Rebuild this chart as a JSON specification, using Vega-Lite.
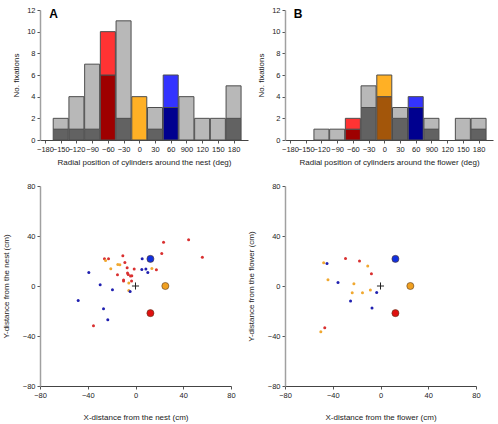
{
  "$schema": "https://vega.github.io/schema/vega-lite/v6.json",
  "padding": {"left": 2, "top": 6, "right": 2, "bottom": 2},
  "background": "white",
  "datasets": {
    "nest_bars": [
      {"angle": -150, "segment": "grey lower", "n": 1}, {"angle": -150, "segment": "grey upper", "n": 1},
      {"angle": -120, "segment": "grey lower", "n": 1}, {"angle": -120, "segment": "grey upper", "n": 3},
      {"angle": -90, "segment": "grey lower", "n": 1}, {"angle": -90, "segment": "grey upper", "n": 6},
      {"angle": -60, "segment": "red lower", "n": 6}, {"angle": -60, "segment": "red upper", "n": 4},
      {"angle": -30, "segment": "grey lower", "n": 2}, {"angle": -30, "segment": "grey upper", "n": 9},
      {"angle": 0, "segment": "orange upper", "n": 4},
      {"angle": 30, "segment": "grey lower", "n": 1}, {"angle": 30, "segment": "grey upper", "n": 2},
      {"angle": 60, "segment": "blue lower", "n": 3}, {"angle": 60, "segment": "blue upper", "n": 3},
      {"angle": 90, "segment": "grey upper", "n": 4},
      {"angle": 120, "segment": "grey upper", "n": 2},
      {"angle": 150, "segment": "grey upper", "n": 2},
      {"angle": 180, "segment": "grey lower", "n": 2}, {"angle": 180, "segment": "grey upper", "n": 3}
    ],
    "flower_bars": [
      {"angle": -120, "segment": "grey upper", "n": 1},
      {"angle": -90, "segment": "grey upper", "n": 1},
      {"angle": -60, "segment": "red lower", "n": 1}, {"angle": -60, "segment": "red upper", "n": 1},
      {"angle": -30, "segment": "grey lower", "n": 3}, {"angle": -30, "segment": "grey upper", "n": 2},
      {"angle": 0, "segment": "orange lower", "n": 4}, {"angle": 0, "segment": "orange upper", "n": 2},
      {"angle": 30, "segment": "grey lower", "n": 2}, {"angle": 30, "segment": "grey upper", "n": 1},
      {"angle": 60, "segment": "blue lower", "n": 3}, {"angle": 60, "segment": "blue upper", "n": 1},
      {"angle": 90, "segment": "grey lower", "n": 1}, {"angle": 90, "segment": "grey upper", "n": 1},
      {"angle": 150, "segment": "grey upper", "n": 2},
      {"angle": 180, "segment": "grey lower", "n": 1}, {"angle": 180, "segment": "grey upper", "n": 1}
    ],
    "nest_points": [
      {"x": 44.5, "y": 37, "cyl": "red"}, {"x": 23.5, "y": 35, "cyl": "red"}, {"x": 56, "y": 23, "cyl": "red"},
      {"x": 22, "y": 26, "cyl": "red"}, {"x": 17.5, "y": 13, "cyl": "red"}, {"x": -10.6, "y": 24.3, "cyl": "red"},
      {"x": -26, "y": 21.9, "cyl": "red"}, {"x": -22.6, "y": 21.9, "cyl": "red"}, {"x": -8.9, "y": 18.9, "cyl": "red"},
      {"x": -7, "y": 14.7, "cyl": "red"}, {"x": -1.1, "y": 13.6, "cyl": "red"}, {"x": -15.1, "y": 9.1, "cyl": "red"},
      {"x": -6.7, "y": 10.4, "cyl": "red"}, {"x": -6.1, "y": 9.3, "cyl": "red"}, {"x": -4.2, "y": 8, "cyl": "red"},
      {"x": -3.1, "y": 8.3, "cyl": "red"}, {"x": -10, "y": 4.8, "cyl": "red"}, {"x": -10, "y": 4, "cyl": "red"},
      {"x": -3.3, "y": 4, "cyl": "red"}, {"x": -35.2, "y": -31.7, "cyl": "red"},
      {"x": -25.1, "y": 20.5, "cyl": "orange"}, {"x": -14.8, "y": 17.3, "cyl": "orange"}, {"x": -13.1, "y": 17.1, "cyl": "orange"},
      {"x": -20.7, "y": 13.9, "cyl": "orange"}, {"x": 13.7, "y": 14.1, "cyl": "orange"}, {"x": -5.6, "y": 2.4, "cyl": "orange"},
      {"x": -5.6, "y": -3.5, "cyl": "orange"},
      {"x": 5.6, "y": 21.9, "cyl": "blue"}, {"x": -39.1, "y": 10.9, "cyl": "blue"}, {"x": 5.3, "y": 13.3, "cyl": "blue"},
      {"x": 8.7, "y": 13.6, "cyl": "blue"}, {"x": 10.3, "y": 10.9, "cyl": "blue"}, {"x": -29.6, "y": 1.1, "cyl": "blue"},
      {"x": -19.3, "y": -2.9, "cyl": "blue"}, {"x": -4.5, "y": -4.3, "cyl": "blue"}, {"x": -48, "y": -11.5, "cyl": "blue"},
      {"x": -26.8, "y": -18.1, "cyl": "blue"}, {"x": -23.2, "y": -26.9, "cyl": "blue"}
    ],
    "flower_points": [
      {"x": -47.6, "y": 18.7, "cyl": "orange"}, {"x": -44.8, "y": 18.1, "cyl": "blue"}, {"x": -29.3, "y": 22.1, "cyl": "red"},
      {"x": -17.6, "y": 20, "cyl": "red"}, {"x": -10.7, "y": 16, "cyl": "orange"}, {"x": -7.6, "y": 9.9, "cyl": "red"},
      {"x": -44, "y": 5.1, "cyl": "orange"}, {"x": -35.6, "y": 2.9, "cyl": "blue"}, {"x": -22.3, "y": 1.9, "cyl": "orange"},
      {"x": -23.7, "y": -5.3, "cyl": "orange"}, {"x": -15.1, "y": -5.3, "cyl": "orange"}, {"x": -8.5, "y": -3.2, "cyl": "orange"},
      {"x": -3.2, "y": -5.1, "cyl": "blue"}, {"x": -25.1, "y": -12, "cyl": "blue"}, {"x": -7.1, "y": -17.6, "cyl": "blue"},
      {"x": -46.7, "y": -33.3, "cyl": "red"}, {"x": -50, "y": -36.5, "cyl": "orange"}
    ],
    "cylinders": [
      {"x": 12.5, "y": 21.7, "cyl": "blue cylinder"},
      {"x": 25, "y": 0, "cyl": "orange cylinder"},
      {"x": 12.5, "y": -21.7, "cyl": "red cylinder"}
    ],
    "origin": [{"x": 0, "y": 0}]
  },
  "spacing": {"row": 46, "column": 37},
  "columns": 2,
  "bounds": "flush",
  "concat": [
    {
      "width": 208, "height": 130,
      "layer": [
        {
          "data": {"name": "nest_bars"},
          "mark": {"type": "bar", "size": 15, "stroke": "#4d4d4d", "strokeWidth": 1},
          "encoding": {
            "x": {"field": "angle", "type": "quantitative",
                  "scale": {"domain": [-180, 198], "nice": false, "zero": false},
                  "axis": {"title": "Radial position of cylinders around the nest (deg)",
                           "values": [-180, -150, -120, -90, -60, -30, 0, 30, 60, 90, 120, 150, 180],
                           "labelExpr": "datum.value == 90 ? '900' : datum.label"}},
            "y": {"field": "n", "type": "quantitative", "stack": "zero",
                  "scale": {"domain": [0, 12], "nice": false},
                  "axis": {"title": "No. fixations", "values": [0, 2, 4, 6, 8, 10, 12], "domainColor": "#a0a0a0", "domainWidth": 1.5}},
            "order": {"field": "segment", "sort": "ascending"},
            "color": {"field": "segment", "type": "nominal", "legend": null,
                      "scale": {"domain": ["grey lower", "grey upper", "red lower", "red upper", "orange lower", "orange upper", "blue lower", "blue upper", "red", "orange", "blue", "red cylinder", "orange cylinder", "blue cylinder"],
                                "range": ["#626262", "#b8b8b8", "#9e0000", "#ff3333", "#a3560a", "#ffb025", "#00008f", "#3333ff", "#d93030", "#f0a830", "#2020b0", "#e01010", "#f0a020", "#1030e0"]}}
          }
        },
        {
          "data": {"values": [{"panel": "A"}]},
          "mark": {"type": "text", "align": "left", "baseline": "middle", "fontSize": 12, "fontWeight": "bold", "font": "Liberation Sans"},
          "encoding": {
            "x": {"datum": -172, "type": "quantitative",
                  "scale": {"domain": [-180, 198], "nice": false, "zero": false},
                  "axis": {"title": "Radial position of cylinders around the nest (deg)",
                           "values": [-180, -150, -120, -90, -60, -30, 0, 30, 60, 90, 120, 150, 180],
                           "labelExpr": "datum.value == 90 ? '900' : datum.label"}},
            "y": {"datum": 11.6, "type": "quantitative",
                  "scale": {"domain": [0, 12], "nice": false},
                  "axis": {"title": "No. fixations", "values": [0, 2, 4, 6, 8, 10, 12], "domainColor": "#a0a0a0", "domainWidth": 1.5}},
            "text": {"field": "panel"}}
        }
      ]
    },
    {
      "width": 208, "height": 130,
      "layer": [
        {
          "data": {"name": "flower_bars"},
          "mark": {"type": "bar", "size": 15, "stroke": "#4d4d4d", "strokeWidth": 1},
          "encoding": {
            "x": {"field": "angle", "type": "quantitative",
                  "scale": {"domain": [-180, 198], "nice": false, "zero": false},
                  "axis": {"title": "Radial position of cylinders around the flower (deg)",
                           "values": [-180, -150, -120, -90, -60, -30, 0, 30, 60, 90, 120, 150, 180],
                           "labelExpr": "datum.value == 90 ? '900' : datum.label"}},
            "y": {"field": "n", "type": "quantitative", "stack": "zero",
                  "scale": {"domain": [0, 12], "nice": false},
                  "axis": {"title": "No. fixations", "values": [0, 2, 4, 6, 8, 10, 12], "domainColor": "#a0a0a0", "domainWidth": 1.5}},
            "order": {"field": "segment", "sort": "ascending"},
            "color": {"field": "segment", "type": "nominal", "legend": null,
                      "scale": {"domain": ["grey lower", "grey upper", "red lower", "red upper", "orange lower", "orange upper", "blue lower", "blue upper", "red", "orange", "blue", "red cylinder", "orange cylinder", "blue cylinder"],
                                "range": ["#626262", "#b8b8b8", "#9e0000", "#ff3333", "#a3560a", "#ffb025", "#00008f", "#3333ff", "#d93030", "#f0a830", "#2020b0", "#e01010", "#f0a020", "#1030e0"]}}
          }
        },
        {
          "data": {"values": [{"panel": "B"}]},
          "mark": {"type": "text", "align": "left", "baseline": "middle", "fontSize": 12, "fontWeight": "bold", "font": "Liberation Sans"},
          "encoding": {
            "x": {"datum": -173, "type": "quantitative",
                  "scale": {"domain": [-180, 198], "nice": false, "zero": false},
                  "axis": {"title": "Radial position of cylinders around the flower (deg)",
                           "values": [-180, -150, -120, -90, -60, -30, 0, 30, 60, 90, 120, 150, 180],
                           "labelExpr": "datum.value == 90 ? '900' : datum.label"}},
            "y": {"datum": 11.6, "type": "quantitative",
                  "scale": {"domain": [0, 12], "nice": false},
                  "axis": {"title": "No. fixations", "values": [0, 2, 4, 6, 8, 10, 12], "domainColor": "#a0a0a0", "domainWidth": 1.5}},
            "text": {"field": "panel"}}
        }
      ]
    },
    {
      "width": 191, "height": 200,
      "encoding": {
        "x": {"field": "x", "type": "quantitative",
              "scale": {"domain": [-80, 80], "nice": false},
              "axis": {"title": "X-distance from the nest (cm)", "values": [-80, -40, 0, 40, 80], "titlePadding": 15}},
        "y": {"field": "y", "type": "quantitative",
              "scale": {"domain": [-80, 80], "nice": false},
              "axis": {"title": "Y-distance from the nest (cm)", "values": [-80, -40, 0, 40, 80], "titlePadding": 12, "domainColor": "#a0a0a0", "domainWidth": 1.5}}
      },
      "layer": [
        {
          "data": {"name": "nest_points"},
          "mark": {"type": "point", "filled": true, "size": 9, "opacity": 1},
          "encoding": {
            "color": {"field": "cyl", "type": "nominal", "legend": null,
                      "scale": {"domain": ["grey lower", "grey upper", "red lower", "red upper", "orange lower", "orange upper", "blue lower", "blue upper", "red", "orange", "blue", "red cylinder", "orange cylinder", "blue cylinder"],
                                "range": ["#626262", "#b8b8b8", "#9e0000", "#ff3333", "#a3560a", "#ffb025", "#00008f", "#3333ff", "#d93030", "#f0a830", "#2020b0", "#e01010", "#f0a020", "#1030e0"]}}
          }
        },
        {
          "data": {"name": "cylinders"},
          "mark": {"type": "point", "filled": true, "size": 50, "opacity": 1, "stroke": "#5a3a20", "strokeWidth": 0.6},
          "encoding": {
            "color": {"field": "cyl", "type": "nominal", "legend": null}
          }
        },
        {
          "data": {"name": "origin"},
          "mark": {"type": "point", "shape": "M-1,0H1M0,-1V1", "size": 50, "stroke": "#222", "strokeWidth": 1, "opacity": 1},
          "encoding": {}
        },
        {
          "data": {"values": [{"panel": "C"}]},
          "mark": {"type": "text", "align": "left", "baseline": "middle", "fontSize": 12, "fontWeight": "bold", "font": "Liberation Sans"},
          "encoding": {
            "x": {"datum": -76.5, "type": "quantitative",
                  "scale": {"domain": [-80, 80], "nice": false},
                  "axis": {"title": "X-distance from the nest (cm)", "values": [-80, -40, 0, 40, 80], "titlePadding": 15}},
            "y": {"datum": 80, "type": "quantitative",
                  "scale": {"domain": [-80, 80], "nice": false},
                  "axis": {"title": "Y-distance from the nest (cm)", "values": [-80, -40, 0, 40, 80], "titlePadding": 12, "domainColor": "#a0a0a0", "domainWidth": 1.5}},
            "text": {"field": "panel"}}
        }
      ]
    },
    {
      "width": 191, "height": 200,
      "encoding": {
        "x": {"field": "x", "type": "quantitative",
              "scale": {"domain": [-80, 80], "nice": false},
              "axis": {"title": "X-distance from the flower (cm)", "values": [-80, -40, 0, 40, 80], "titlePadding": 15}},
        "y": {"field": "y", "type": "quantitative",
              "scale": {"domain": [-80, 80], "nice": false},
              "axis": {"title": "Y-distance from the flower (cm)", "values": [-80, -40, 0, 40, 80], "titlePadding": 12, "domainColor": "#a0a0a0", "domainWidth": 1.5}}
      },
      "layer": [
        {
          "data": {"name": "flower_points"},
          "mark": {"type": "point", "filled": true, "size": 9, "opacity": 1},
          "encoding": {
            "color": {"field": "cyl", "type": "nominal", "legend": null,
                      "scale": {"domain": ["grey lower", "grey upper", "red lower", "red upper", "orange lower", "orange upper", "blue lower", "blue upper", "red", "orange", "blue", "red cylinder", "orange cylinder", "blue cylinder"],
                                "range": ["#626262", "#b8b8b8", "#9e0000", "#ff3333", "#a3560a", "#ffb025", "#00008f", "#3333ff", "#d93030", "#f0a830", "#2020b0", "#e01010", "#f0a020", "#1030e0"]}}
          }
        },
        {
          "data": {"name": "cylinders"},
          "mark": {"type": "point", "filled": true, "size": 50, "opacity": 1, "stroke": "#5a3a20", "strokeWidth": 0.6},
          "encoding": {
            "color": {"field": "cyl", "type": "nominal", "legend": null}
          }
        },
        {
          "data": {"name": "origin"},
          "mark": {"type": "point", "shape": "M-1,0H1M0,-1V1", "size": 50, "stroke": "#222", "strokeWidth": 1, "opacity": 1},
          "encoding": {}
        },
        {
          "data": {"values": [{"panel": "D"}]},
          "mark": {"type": "text", "align": "left", "baseline": "middle", "fontSize": 12, "fontWeight": "bold", "font": "Liberation Sans"},
          "encoding": {
            "x": {"datum": -76.5, "type": "quantitative",
                  "scale": {"domain": [-80, 80], "nice": false},
                  "axis": {"title": "X-distance from the flower (cm)", "values": [-80, -40, 0, 40, 80], "titlePadding": 15}},
            "y": {"datum": 80, "type": "quantitative",
                  "scale": {"domain": [-80, 80], "nice": false},
                  "axis": {"title": "Y-distance from the flower (cm)", "values": [-80, -40, 0, 40, 80], "titlePadding": 12, "domainColor": "#a0a0a0", "domainWidth": 1.5}},
            "text": {"field": "panel"}}
        }
      ]
    }
  ],
  "resolve": {"scale": {"x": "independent", "y": "independent"}},
  "config": {
    "view": {"stroke": null},
    "font": "Liberation Sans",
    "axis": {
      "grid": false,
      "labelFont": "Liberation Sans", "labelFontSize": 7.5, "labelColor": "#222",
      "labelOverlap": false, "labelFlush": false, "labelPadding": 2,
      "titleFont": "Liberation Sans", "titleFontSize": 8, "titleFontWeight": "normal", "titleColor": "#222",
      "titlePadding": 6,
      "tickColor": "#555", "tickSize": 3, "domainColor": "#444"
    }
  }
}
